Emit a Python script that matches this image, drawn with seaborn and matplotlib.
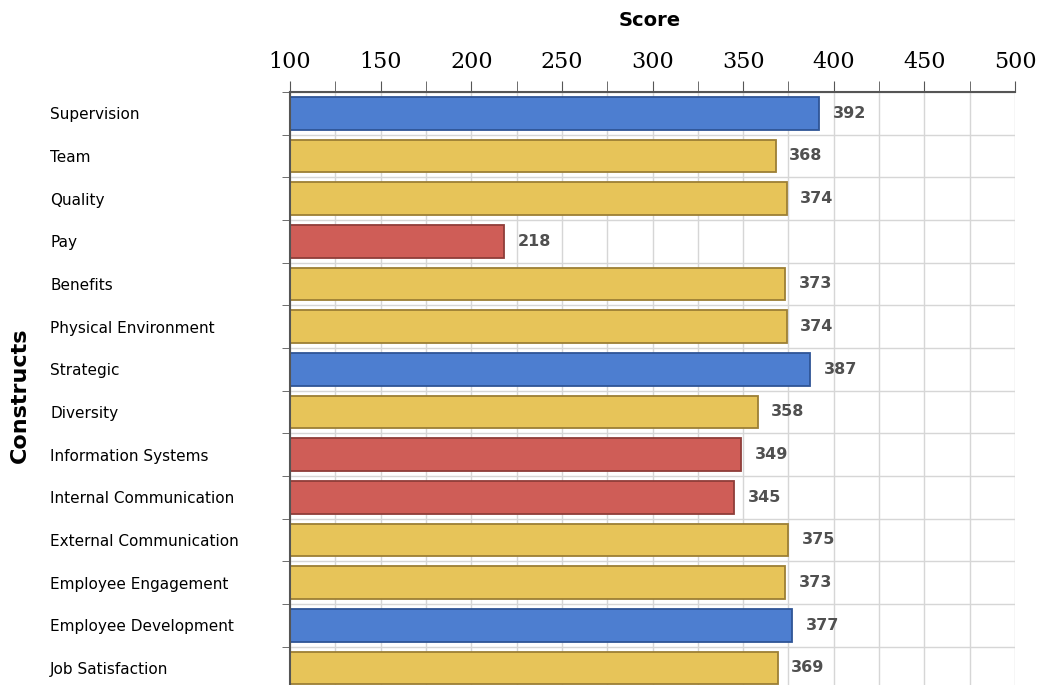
import matplotlib
matplotlib.use('Agg')
import matplotlib.pyplot as plt
import matplotlib.ticker as mticker
import pandas as pd
import seaborn as sns

# 数据
constructs = ['Supervision', 'Team', 'Quality', 'Pay', 'Benefits', 'Physical Environment',
              'Strategic', 'Diversity', 'Information Systems', 'Internal Communication',
              'External Communication', 'Employee Engagement', 'Employee Development',
              'Job Satisfaction']
scores = [392, 368, 374, 218, 373, 374, 387, 358, 349, 345, 375, 373, 377, 369]
groups = ['high', 'mid', 'mid', 'low', 'mid', 'mid', 'high', 'mid', 'low', 'low',
          'mid', 'mid', 'high', 'mid']

palette = {'high': '#4d7ed0', 'mid': '#e7c459', 'low': '#cf5d57'}
edges = {'high': '#2f5596', 'mid': '#9c7f35', 'low': '#8f3d39'}

df = pd.DataFrame({'Construct': constructs, 'Score': scores, 'Group': groups})

sns.set_style('white')
plt.rcParams['font.family'] = ['DejaVu Sans']

fig = plt.figure(figsize=(10.37, 6.85), dpi=100)
ax = fig.add_axes([290 / 1037, 0, 725 / 1037, 1 - 92 / 685])

sns.barplot(data=df, x='Score', y='Construct', hue='Group', palette=palette,
            dodge=False, legend=False, width=0.77, saturation=1, ax=ax, orient='h')

ax.set_xlim(100, 500)
for patch in ax.patches:
    idx = int(round(patch.get_y() + patch.get_height() / 2))
    patch.set_edgecolor(edges[groups[idx]])
    patch.set_linewidth(1.3)
    # 柱子左端从100开始
    x0 = patch.get_x()
    if x0 < 100:
        w = patch.get_width()
        patch.set_x(100)
        patch.set_width(w - (100 - x0))

ax.set_ylim(13.4, -0.5)

for i, v in enumerate(scores):
    ax.text(v + 7.5, i, str(v), va='center', ha='left', fontsize=11.5, fontweight='bold',
            color='#505050')

ax.xaxis.tick_top()
ax.xaxis.set_label_position('top')
ax.xaxis.set_major_locator(mticker.MultipleLocator(50))
ax.xaxis.set_minor_locator(mticker.MultipleLocator(25))
ax.yaxis.set_minor_locator(mticker.FixedLocator([i + 0.5 for i in range(-1, 14)]))
ax.tick_params(axis='x', which='both', top=True, direction='out', length=8, color='#555555',
               labelsize=16, pad=6, labelcolor='black')
ax.tick_params(axis='y', which='major', left=False, length=0, pad=240 / 1.389, labelsize=11,
               labelcolor='black')
ax.tick_params(axis='y', which='minor', left=True, direction='out', length=6, color='#555555')
for lab in ax.get_xticklabels():
    lab.set_fontfamily('DejaVu Serif')
for lab in ax.get_yticklabels():
    lab.set_horizontalalignment('left')

ax.grid(True, which='both', axis='x', color='#d6d6d6', linewidth=1)
ax.grid(True, which='minor', axis='y', color='#d6d6d6', linewidth=1)
ax.set_axisbelow(True)

for s in ['right', 'bottom']:
    ax.spines[s].set_visible(False)
ax.spines['top'].set_color('#555555')
ax.spines['left'].set_color('#555555')
ax.spines['top'].set_linewidth(1.5)
ax.spines['left'].set_linewidth(1.5)

ax.set_xlabel('Score', fontsize=14, fontweight='bold', color='black')
ax.xaxis.set_label_coords((650 - 290) / 725, 1 + (92 - 20) / 593)
ax.xaxis.label.set_va('center')
ax.set_ylabel('')
fig.text(20 / 1037, 1 - 395 / 685, 'Constructs', rotation=90, fontsize=16, fontweight='bold',
         ha='center', va='center', color='black')

fig.savefig('out.png', dpi=100)
